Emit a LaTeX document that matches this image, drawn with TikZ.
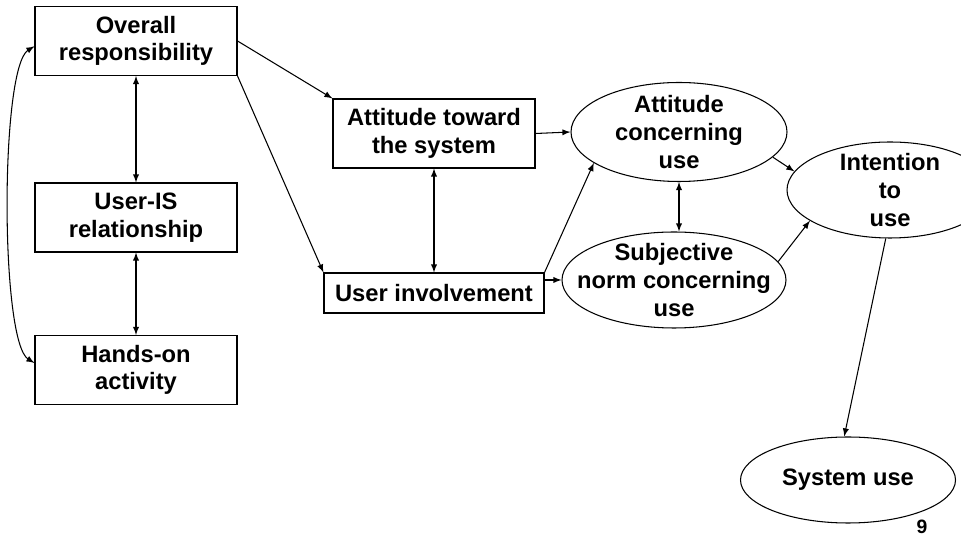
\documentclass[tikz,border=0pt]{standalone}
\usepackage{fontspec}
\setmainfont{Liberation Sans}
\usepackage{tikz}
\usetikzlibrary{shapes,arrows,positioning}
\tikzstyle{box} = [rectangle, draw, line width=0.6pt, inner sep=0pt, align=center, font=\fontsize{13.5}{15.7}\selectfont\bfseries]
\tikzstyle{oval} = [ellipse, draw, line width=0.6pt, inner sep=0pt]
\tikzstyle{txt} = [inner sep=0pt, align=center, font=\fontsize{13.5}{15.7}\selectfont\bfseries]
\tikzstyle{line} = [draw, line width=0.6pt, -latex]
\tikzstyle{dline} = [draw, line width=0.6pt, latex-latex]

\begin{document}
\begin{tikzpicture}
			\useasboundingbox (0,0) rectangle (19.22,10.74);
			\node [box, minimum width=4.04cm, minimum height=1.38cm] (overall) at (2.72, 9.92) {Overall\\responsibility};
			\node [box, minimum width=4.04cm, minimum height=1.38cm] (useris) at (2.72, 6.39) {User-IS\\relationship};
			\node [box, minimum width=4.04cm, minimum height=1.38cm] (handson) at (2.72, 3.34) {Hands-on\\activity};
			\node [box, minimum width=4.04cm, minimum height=1.38cm] (atts) at (8.68, 8.07) {Attitude toward\\the system};
			\node [box, minimum width=4.4cm, minimum height=0.8cm] (uinv) at (8.68, 4.88) {User involvement};
			\node [oval, minimum width=4.32cm, minimum height=1.98cm, label={[txt]center:{Attitude\\concerning\\use}}] (acu) at (13.58, 8.10) {};
			\node [oval, minimum width=4.48cm, minimum height=1.92cm, label={[txt]center:{Subjective\\norm concerning\\use}}] (sn) at (13.48, 5.14) {};
			\node [oval, minimum width=4.12cm, minimum height=1.92cm, label={[txt]center:{Intention\\to\\use}}] (int) at (17.8, 6.94) {};
			\node [oval, minimum width=4.3cm, minimum height=1.72cm, label={[txt]center:{System use}}] (sysuse) at (16.96, 1.14) {};
			\node [txt, font=\fontsize{11}{13}\selectfont\bfseries] (page) at (18.44, 0.2) {9};

			\path [line] (overall.east) -- (atts.north west);
			\path [line] (overall.south east) -- (uinv.north west);
			\path [dline] (overall.south) -- (useris.north);
			\path [dline] (useris.south) -- (handson.north);
			\path [dline] ([yshift=-3pt]overall.west) .. controls (0.0, 9.4) and (0.0, 3.9) .. ([yshift=4pt]handson.west);
			\path [dline] (atts.south) -- (uinv.north);
			\path [line] (atts.east) -- (acu.west);
			\path [line] (uinv.east |- sn.west) -- (sn.west);
			\path [line] (uinv.north east) -- (acu.200);
			\path [dline] (acu.south) -- (acu.south |- sn.north);
			\path [line] (acu.-15) -- (int.169);
			\path [line] (sn.10) -- (int.201);
			\path [line] (int.265) -- (sysuse.95);
		\end{tikzpicture}
\end{document}
